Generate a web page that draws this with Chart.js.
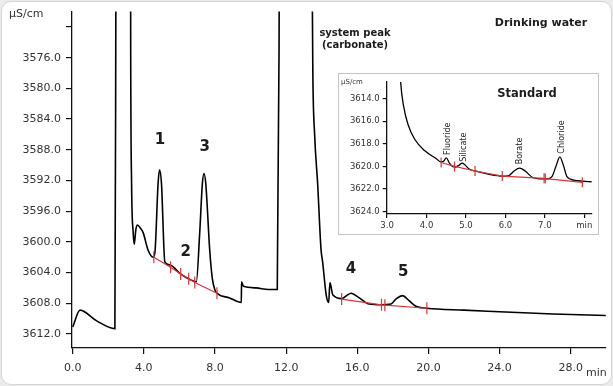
<!DOCTYPE html>
<html>
<head>
<meta charset="utf-8">
<script src="https://cdn.jsdelivr.net/npm/chart.js"></script>
<style>
  body { margin: 0; background: #ebebeb; }
  #card { position: absolute; left: 1px; top: 1px; width: 609px; height: 382px; background: #fff; border: 1px solid #d6d6d6; border-radius: 10px; }
  #main { position: absolute; left: 0; top: 0; }
  #insetBox { position: absolute; left: 338px; top: 73px; width: 259px; height: 160px; border: 1px solid #c4c4c4; background: #fff; }
  #inset { position: absolute; left: 0; top: 0; }
</style>
</head>
<body>
<div id="card"></div>
<canvas id="main" width="613" height="386"></canvas>
<div id="insetBox"><canvas id="inset" width="259" height="160"></canvas></div>
<script>
// drinking water chromatogram (min, uS/cm)
var waterTime = [0, 0.41, 1.35, 2.37, 2.42, 2.5, 3.2, 3.26, 3.31, 3.40, 3.46, 3.55, 3.64, 3.8, 3.96, 4.24, 4.52,
  4.62, 4.80, 4.88, 4.99, 5.18, 5.46, 6.02, 6.58, 6.95, 7.14, 7.29, 7.38, 7.48, 7.70, 7.85, 8.0, 8.11,
  8.82, 9.48, 9.49, 9.6, 10.3, 11.0, 11.5, 11.6, 11.7, 13.35, 13.46, 13.5, 13.6, 13.77, 13.96, 14.05,
  14.25, 14.39, 14.46, 14.62, 15.12, 15.4, 15.65, 16.11, 16.67, 17.33, 17.89, 18.2, 18.54, 18.92, 19.29,
  19.91, 22, 24, 27, 30];
var waterSignal = [3611.1, 3608.9, 3610.3, 3611.3, 3575, 3480, 3480, 3575, 3592.4, 3598.8, 3600.3, 3598.4, 3597.8, 3598.2, 3598.8, 3601.1, 3602.0,
  3601.4, 3592.4, 3590.6, 3592.4, 3602.6, 3603.0, 3604.1, 3604.9, 3605.2, 3598.8, 3592.4, 3591.1, 3592.4, 3601.0, 3604.8, 3606.3, 3606.7,
  3607.3, 3607.9, 3605.2, 3605.8, 3606.0, 3606.2, 3606.2, 3575, 3480, 3480, 3565, 3578, 3586, 3592.4, 3601.0, 3602.6,
  3606.9, 3607.9, 3605.3, 3606.9, 3607.4, 3607.0, 3606.7, 3607.3, 3608.1, 3608.2, 3608.1, 3607.4, 3607.0, 3607.7, 3608.4,
  3608.65, 3608.9, 3609.1, 3609.4, 3609.6];

// integration baselines
var base1Time = [4.56, 5.5, 6.07, 6.52, 6.86, 8.11];
var base1Signal = [3602.0, 3603.3, 3604.2, 3604.8, 3605.3, 3606.7];
var base2Time = [15.12, 17.36, 17.55, 19.91];
var base2Signal = [3607.45, 3608.2, 3608.25, 3608.65];

var peakNames = ['1', '2', '3', '4', '5'];
var peakNameTime = [4.9, 6.36, 7.42, 15.65, 18.58];
var peakNameSignal = [3586.7, 3601.3, 3587.6, 3603.5, 3604.0];

var xTicks = [0, 4, 8, 12, 16, 20, 24, 28];
var yTicks = [3572, 3576, 3580, 3584, 3588, 3592, 3596, 3600, 3604, 3608, 3612];

// standard (inset)
var stdTime = [3.33, 3.345, 3.42, 3.53, 3.70, 3.95, 4.24, 4.37, 4.43, 4.50, 4.58, 4.66, 4.73, 4.82, 4.91, 5.0, 5.07,
  5.23, 5.59, 5.92, 6.09, 6.22, 6.36, 6.50, 6.68, 6.93, 7.05, 7.18, 7.28, 7.38, 7.47, 7.56, 7.73, 7.95, 8.19];
var stdSignal = [3611.5, 3612.6, 3614.7, 3616.3, 3617.6, 3618.6, 3619.3, 3619.6, 3619.55, 3619.25, 3619.7, 3620.0, 3620.05, 3619.9, 3619.7, 3619.95, 3620.2,
  3620.4, 3620.7, 3620.85, 3620.8, 3620.4, 3620.15, 3620.4, 3620.95, 3621.1, 3621.1, 3620.9, 3620.0, 3619.15, 3619.9, 3620.9, 3621.2, 3621.3, 3621.35];
var stdBaseTime = [4.37, 4.71, 5.23, 5.92, 6.98, 7.01, 7.95];
var stdBaseSignal = [3619.65, 3620.0, 3620.4, 3620.85, 3621.05, 3621.07, 3621.4];

var stdNames = ['Fluoride', 'Silicate', 'Borate', 'Chloride'];
var stdNameTime = [4.54, 4.96, 6.36, 7.43];
var stdNameSignal = [3618.98, 3619.58, 3619.81, 3618.87];

var stdXTicks = [3, 4, 5, 6, 7, 8];
var stdYTicks = [3614, 3616, 3618, 3620, 3622, 3624];

var RED = '#d8343a';
var FONT = 'DejaVu Sans';

function pts(xs, ys) {
  var out = [];
  for (var i = 0; i < xs.length; i++) out.push({ x: xs[i], y: ys[i] });
  return out;
}

function baseSet(xs, ys, r) {
  return {
    data: pts(xs, ys), borderColor: RED, borderWidth: 1.2,
    pointStyle: 'line', rotation: 90, pointRadius: r, pointBorderColor: RED,
    pointBorderWidth: 1.2, pointHoverRadius: r, tension: 0
  };
}

function axis(opts) {
  return {
    type: 'linear', min: opts.min, max: opts.max, reverse: !!opts.reverse,
    afterBuildTicks: function (s) { s.ticks = opts.ticks.map(function (v) { return { value: v }; }); },
    afterFit: opts.fit,
    grid: { drawOnChartArea: false, drawTicks: true, tickLength: opts.tick, color: '#111', lineWidth: 1.2 },
    border: { display: true, color: '#111', width: 1.3 },
    ticks: { font: { family: FONT, size: opts.size }, color: '#333', padding: opts.pad, maxRotation: 0, autoSkip: false, callback: opts.label }
  };
}

var mainText = {
  id: 'mainText',
  afterDraw: function (chart) {
    var ctx = chart.ctx, xs = chart.scales.x, ys = chart.scales.y;
    ctx.save();
    ctx.fillStyle = '#1c1c1c';
    ctx.textAlign = 'center';
    ctx.textBaseline = 'middle';
    ctx.font = 'bold 15px "' + FONT + '"';
    for (var i = 0; i < peakNames.length; i++) {
      ctx.fillText(peakNames[i], xs.getPixelForValue(peakNameTime[i]), ys.getPixelForValue(peakNameSignal[i]));
    }
    ctx.font = 'bold 10px "' + FONT + '"';
    ctx.fillText('system peak', 355, 33);
    ctx.fillText('(carbonate)', 355, 45);
    ctx.font = 'bold 11px "' + FONT + '"';
    ctx.fillText('Drinking water', 541, 23);
    ctx.fillStyle = '#333';
    ctx.textAlign = 'left';
    ctx.font = '11px "' + FONT + '"';
    ctx.fillText('\u00b5S/cm', 9, 14);
    ctx.fillText('min', 586, 373);
    ctx.restore();
  }
};

var insetText = {
  id: 'insetText',
  afterDraw: function (chart) {
    var ctx = chart.ctx, xs = chart.scales.x, ys = chart.scales.y;
    ctx.save();
    ctx.fillStyle = '#222';
    ctx.textBaseline = 'middle';
    ctx.textAlign = 'left';
    ctx.font = '8px "' + FONT + '"';
    for (var i = 0; i < stdNames.length; i++) {
      ctx.save();
      ctx.translate(xs.getPixelForValue(stdNameTime[i]), ys.getPixelForValue(stdNameSignal[i]));
      ctx.rotate(-Math.PI / 2);
      ctx.fillText(stdNames[i], 0, 0);
      ctx.restore();
    }
    ctx.fillStyle = '#333';
    ctx.font = '7px "' + FONT + '"';
    ctx.fillText('\u00b5S/cm', 2, 8);
    ctx.fillStyle = '#1c1c1c';
    ctx.textAlign = 'center';
    ctx.font = 'bold 11.5px "' + FONT + '"';
    ctx.fillText('Standard', 188, 20);
    ctx.restore();
  }
};

new Chart(document.getElementById('main').getContext('2d'), {
  type: 'line',
  data: {
    datasets: [
      baseSet(base1Time, base1Signal, 6),
      baseSet(base2Time, base2Signal, 6),
      {
        data: pts(waterTime, waterSignal), borderColor: '#000', borderWidth: 1.6,
        pointRadius: 0, cubicInterpolationMode: 'monotone'
      }
    ]
  },
  options: {
    responsive: false,
    animation: false,
    layout: { padding: { left: 0, right: 6, top: 4, bottom: 0 } },
    plugins: { legend: { display: false }, tooltip: { enabled: false } },
    scales: {
      x: axis({ min: -0.04, max: 29.97, ticks: xTicks, tick: 6, size: 11, pad: 8,
        fit: function (s) { s.height = 38; },
        label: function (v) { return v.toFixed(1); } }),
      y: axis({ min: 3570, max: 3613.83, reverse: true, ticks: yTicks, tick: 6, size: 11, pad: 5,
        fit: function (s) { s.width = 72; },
        label: function (v) { return v === 3572 ? '' : v.toFixed(1); } })
    }
  },
  plugins: [mainText]
});

new Chart(document.getElementById('inset').getContext('2d'), {
  type: 'line',
  data: {
    datasets: [
      baseSet(stdBaseTime, stdBaseSignal, 5),
      {
        data: pts(stdTime, stdSignal), borderColor: '#000', borderWidth: 1.3,
        pointRadius: 0, cubicInterpolationMode: 'monotone'
      }
    ]
  },
  options: {
    responsive: false,
    animation: false,
    layout: { padding: { left: 0, right: 4.7, top: 4, bottom: 0 } },
    plugins: { legend: { display: false }, tooltip: { enabled: false } },
    scales: {
      x: axis({ min: 2.99, max: 8.19, ticks: stdXTicks, tick: 4, size: 8.5, pad: 3,
        fit: function (s) { s.height = 20; },
        label: function (v) { return v === 8 ? 'min' : v.toFixed(1); } }),
      y: axis({ min: 3612.55, max: 3624.2, reverse: true, ticks: stdYTicks, tick: 4, size: 8.5, pad: 3,
        fit: function (s) { s.width = 47.7; },
        label: function (v) { return v.toFixed(1); } })
    }
  },
  plugins: [insetText]
});
</script>
</body>
</html>
